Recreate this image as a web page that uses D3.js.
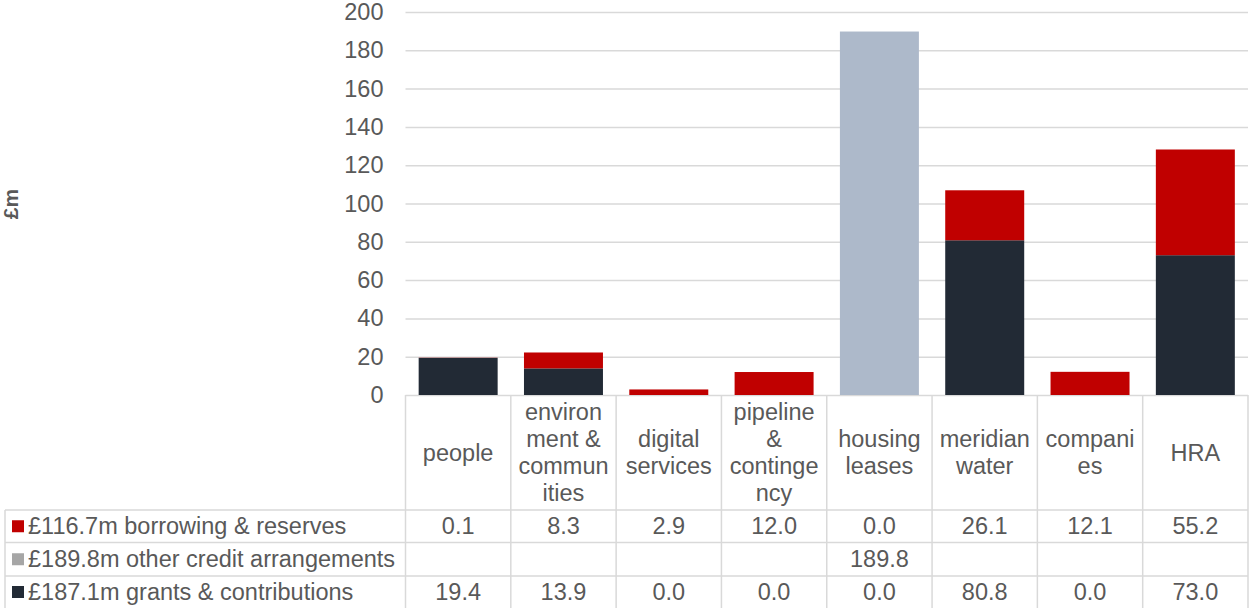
<!DOCTYPE html>
<html>
<head>
<meta charset="utf-8">
<script src="https://cdn.jsdelivr.net/npm/d3@7/dist/d3.min.js"></script>
<style>
  html, body { margin: 0; padding: 0; background: #ffffff; }
  svg { display: block; }
  text { font-family: "Liberation Sans", Arial, sans-serif; fill: #595959; }
</style>
</head>
<body>
<svg id="chart" width="1249" height="608"></svg>
<script>
// Capital programme funding by directorate (£m)
const categories = ["people", "environment & communities", "digital services", "pipeline & contingency",
                    "housing leases", "meridian water", "companies", "HRA"];
// Wrapped header text for each category column
const categoryLabelLines = [
  ["people"],
  ["environ", "ment &", "commun", "ities"],
  ["digital", "services"],
  ["pipeline", "&", "continge", "ncy"],
  ["housing", "leases"],
  ["meridian", "water"],
  ["compani", "es"],
  ["HRA"]
];

const seriesNames = ["£116.7m borrowing & reserves", "£189.8m other credit arrangements", "£187.1m grants & contributions"];
const borrowingReserves = [0.1, 8.3, 2.9, 12.0, 0.0, 26.1, 12.1, 55.2];
const otherCredit = [null, null, null, null, 189.8, null, null, null];
const grantsContributions = [19.4, 13.9, 0.0, 0.0, 0.0, 80.8, 0.0, 73.0];
const yTicks = [0, 20, 40, 60, 80, 100, 120, 140, 160, 180, 200];

const barColors = { grants: "#222A35", credit: "#ADB9CA", borrowing: "#C00000" };
const legendKeyColors = ["#C00000", "#A6A6A6", "#222A35"];

const svg = d3.select("#chart");
const plotLeft = 405.5, plotRight = 1248, plotTop = 12, plotBottom = 395;
const gridColor = "#D9D9D9";
const fontSize = 23.5;

const x = d3.scaleBand().domain(categories).range([plotLeft, plotRight])
  .paddingInner(0.25).paddingOuter(0.125);
const y = d3.scaleLinear().domain([0, 200]).range([plotBottom, plotTop]);

// Horizontal gridlines and value labels on the left
const yAxis = d3.axisLeft(y).tickValues(yTicks).tickSize(-(plotRight - plotLeft)).tickPadding(22);
const gy = svg.append("g").attr("transform", `translate(${plotLeft},0)`).call(yAxis);
gy.select(".domain").remove();
gy.selectAll(".tick line").attr("stroke", gridColor).attr("stroke-width", 1.5);
gy.selectAll(".tick text").attr("font-size", fontSize).attr("fill", "#595959")
  .attr("font-family", "Liberation Sans, Arial, sans-serif");

// Stacked bars: grants at the bottom, other credit, then borrowing on top
const rows = categories.map((c, i) => ({
  category: c,
  grants: grantsContributions[i] || 0,
  credit: otherCredit[i] || 0,
  borrowing: borrowingReserves[i] || 0
}));
const stack = d3.stack().keys(["grants", "credit", "borrowing"]);
const layers = stack(rows);

svg.append("g").selectAll("g").data(layers).join("g")
  .attr("fill", d => barColors[d.key])
  .selectAll("rect").data(d => d).join("rect")
  .attr("x", d => x(d.data.category))
  .attr("width", x.bandwidth())
  .attr("y", d => y(d[1]))
  .attr("height", d => Math.max(0, y(d[0]) - y(d[1])));

// Y axis title
svg.append("text")
  .attr("transform", "translate(18,204) rotate(-90)")
  .attr("text-anchor", "middle")
  .attr("font-size", 21).attr("font-weight", "bold")
  .text("£m");

// Data table beneath the plot
const tableLeft = 5;
const headerBottom = 510;
const rowEdges = [510, 542.5, 576, 608];
const colEdges = [plotLeft].concat(categories.map(c => x(c) - x.step() * x.paddingInner() / 2 + x.step()));
const lines = svg.append("g").attr("stroke", gridColor).attr("stroke-width", 1.5);

// column dividers from the axis line to the bottom
colEdges.forEach(cx => {
  lines.append("line").attr("x1", cx).attr("x2", cx).attr("y1", plotBottom).attr("y2", 608);
});
// row dividers across the legend column and data columns
rowEdges.slice(0, 3).forEach(ry => {
  lines.append("line").attr("x1", tableLeft).attr("x2", plotRight).attr("y1", ry).attr("y2", ry);
});
lines.append("line").attr("x1", tableLeft).attr("x2", tableLeft).attr("y1", headerBottom).attr("y2", 608);

// Category header text
const headerMid = (plotBottom + headerBottom) / 2;
const lineH = 27;
categories.forEach((c, i) => {
  const cx = x(c) + x.bandwidth() / 2;
  const ls = categoryLabelLines[i];
  const t = svg.append("text").attr("text-anchor", "middle").attr("font-size", fontSize);
  ls.forEach((ln, j) => {
    t.append("tspan").attr("x", cx)
      .attr("y", headerMid + (j - (ls.length - 1) / 2) * lineH)
      .attr("dy", "0.35em").text(ln);
  });
});

// Series rows: legend key, name, and values
const seriesValues = [borrowingReserves, otherCredit, grantsContributions];
seriesNames.forEach((name, r) => {
  const cy = (rowEdges[r] + rowEdges[r + 1]) / 2;
  svg.append("rect").attr("x", 12).attr("y", cy - 6).attr("width", 12).attr("height", 12)
    .attr("fill", legendKeyColors[r]);
  svg.append("text").attr("x", 28).attr("y", cy).attr("dy", "0.35em")
    .attr("font-size", fontSize).text(name);
  seriesValues[r].forEach((v, i) => {
    if (v === null) return;
    svg.append("text").attr("x", x(categories[i]) + x.bandwidth() / 2)
      .attr("y", cy).attr("dy", "0.35em").attr("text-anchor", "middle")
      .attr("font-size", fontSize).text(v.toFixed(1));
  });
});
</script>
</body>
</html>
